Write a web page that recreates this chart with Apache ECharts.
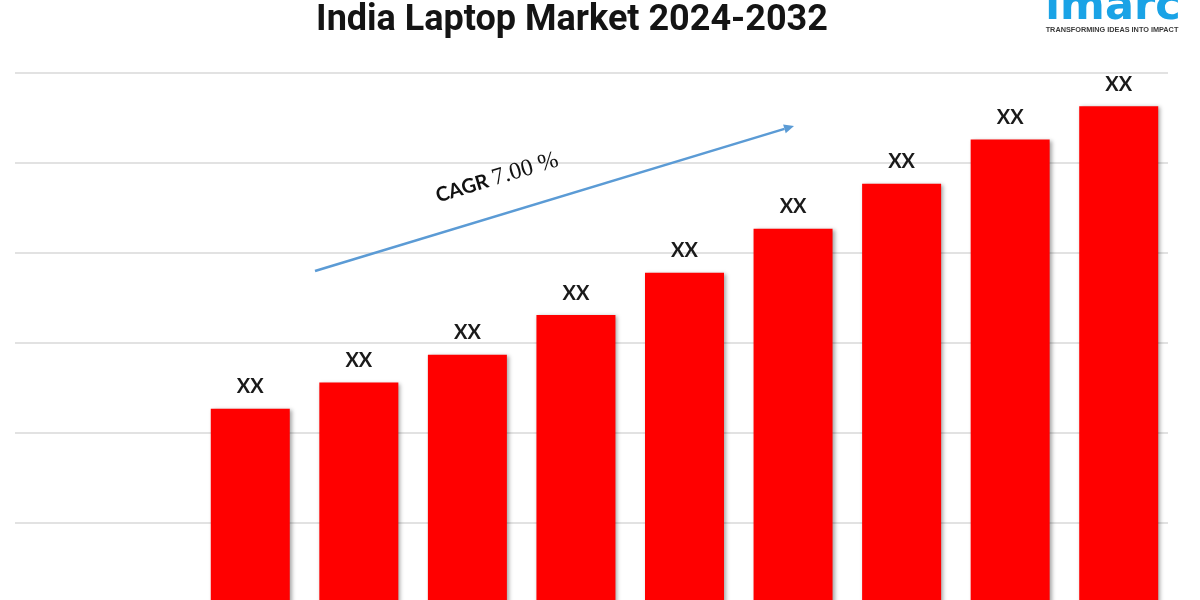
<!DOCTYPE html>
<html>
<head>
<meta charset="utf-8">
<script src="https://cdn.jsdelivr.net/npm/echarts@6/dist/echarts.min.js"></script>
<style>
html,body{margin:0;padding:0;background:#fff;}
#chart{width:1200px;height:600px;}
</style>
</head>
<body>
<div id="chart"></div>
<script>
const categories = ['2024','2025','2026','2027','2028','2029','2030','2031','2032'];
const values = [2.27, 2.56, 2.87, 3.31, 3.78, 4.27, 4.77, 5.26, 5.63];
const barLabels = ['XX','XX','XX','XX','XX','XX','XX','XX','XX'];
const titleText = 'India Laptop Market 2024-2032';
const cagrText = '7.00 %';

const chart = echarts.init(document.getElementById('chart'), null, {renderer:'canvas'});

// arrow geometry (annotation)
const a0 = [315, 271], a1 = [794, 126];
const dx = a1[0]-a0[0], dy = a1[1]-a0[1], L = Math.hypot(dx, dy);
const ux = dx/L, uy = dy/L, nx = -uy, ny = ux;
const hl = 10, hw = 4.5;
const bx = a1[0]-ux*hl, by = a1[1]-uy*hl;
const angle = Math.atan2(-dy, dx);

const option = {
  backgroundColor: '#ffffff',
  animation: false,
  grid: [
    {left: 196, right: 27, top: 73, bottom: -13, outerBoundsMode: 'none', containLabel: false},
    {left: 15, right: 32, top: 73, bottom: -13, outerBoundsMode: 'none', containLabel: false}
  ],
  xAxis: [
    {type: 'category', data: categories, gridIndex: 0,
     axisLine: {show: false}, axisTick: {show: false}, axisLabel: {show: false}},
    {type: 'value', gridIndex: 1, show: false, min: 0, max: 1}
  ],
  yAxis: [
    {type: 'value', gridIndex: 0, min: 0, max: 6, interval: 1,
     splitLine: {show: false}, axisLine: {show: false}, axisTick: {show: false}, axisLabel: {show: false}},
    {type: 'value', gridIndex: 1, min: 0, max: 6, interval: 1,
     splitLine: {show: true, lineStyle: {color: '#d9d9d9', width: 1.5}},
     axisLine: {show: false}, axisTick: {show: false}, axisLabel: {show: false}}
  ],
  series: [{
    type: 'bar',
    xAxisIndex: 0, yAxisIndex: 0,
    data: values,
    barWidth: 79,
    z: 3,
    itemStyle: {
      color: '#ff0000',
      shadowColor: 'rgba(0,0,0,0.35)',
      shadowBlur: 4,
      shadowOffsetX: 2,
      shadowOffsetY: 1
    },
    label: {
      show: true,
      position: 'top',
      distance: 12,
      formatter: p => barLabels[p.dataIndex],
      fontFamily: 'Lato',
      fontWeight: 'bold',
      fontSize: 20,
      color: '#1a1a1a'
    }
  }],
  graphic: [
    {type: 'text', x: 572, y: 21, z: 10,
     style: {text: titleText, font: 'bold 36px Roboto', fill: '#141414', align: 'center', verticalAlign: 'middle'}},
    {type: 'text', x: 1113, y: 8, z: 10,
     style: {text: 'imarc', font: 'bold 43px "DejaVu Sans"', fill: '#1aa3e6', align: 'center', verticalAlign: 'middle'}},
    {type: 'text', x: 1112, y: 30, z: 10,
     style: {text: 'TRANSFORMING IDEAS INTO IMPACT', font: 'bold 7.3px "Liberation Sans"', fill: '#3a3a3a', align: 'center', verticalAlign: 'middle'}},
    {type: 'line', z: 10,
     shape: {x1: a0[0], y1: a0[1], x2: bx, y2: by},
     style: {stroke: '#5b9bd5', lineWidth: 2.5}},
    {type: 'polygon', z: 10,
     shape: {points: [[a1[0], a1[1]], [bx+nx*hw, by+ny*hw], [bx-nx*hw, by-ny*hw]]},
     style: {fill: '#5b9bd5'}},
    {type: 'text', x: 497, y: 178, rotation: angle, z: 10,
     style: {
       text: '{a|CAGR }{b|' + cagrText + '}',
       align: 'center', verticalAlign: 'middle',
       rich: {
         a: {fontFamily: 'Lato', fontWeight: 'bold', fontSize: 20, fill: '#111', color: '#111'},
         b: {fontFamily: 'Liberation Serif', fontSize: 24, fill: '#111', color: '#111'}
       }
     }}
  ]
};
chart.setOption(option);
</script>
</body>
</html>
